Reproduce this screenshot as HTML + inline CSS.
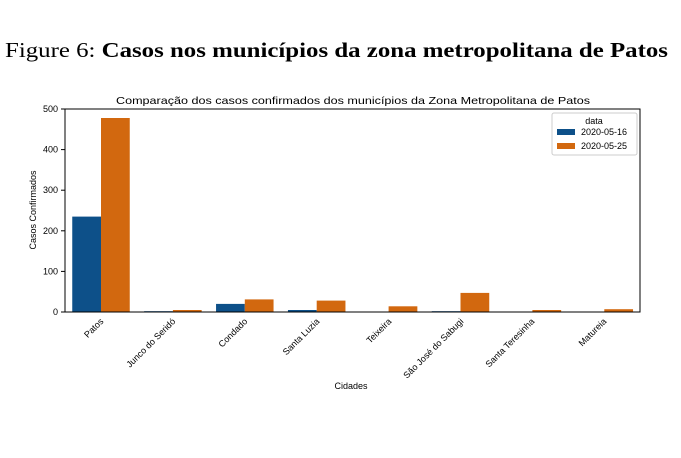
<!DOCTYPE html>
<html><head><meta charset="utf-8"><style>body{margin:0;background:#fff}svg{display:block}</style></head><body>
<svg width="681" height="458" xmlns="http://www.w3.org/2000/svg" font-family="Liberation Sans, DejaVu Sans, sans-serif">
<rect width="681" height="458" fill="#fff"/>
<text x="5" y="57" font-family="Liberation Serif, serif" font-size="21" textLength="663" lengthAdjust="spacingAndGlyphs"><tspan>Figure 6:</tspan><tspan font-weight="bold"> Casos nos municípios da zona metropolitana de Patos</tspan></text>
<text x="353" y="104" font-size="10.5" text-anchor="middle" textLength="474" lengthAdjust="spacingAndGlyphs">Comparação dos casos confirmados dos municípios da Zona Metropolitana de Patos</text>
<g fill="#0d5089">
<rect x="72.25" y="216.6" width="28.75" height="95.4"/>
<rect x="144.15" y="311.2" width="28.75" height="0.8"/>
<rect x="216.05" y="303.9" width="28.75" height="8.1"/>
<rect x="287.95" y="310" width="28.75" height="2"/>
<rect x="431.75" y="311.2" width="28.75" height="0.8"/>
</g>
<g fill="#d2680f">
<rect x="101" y="118" width="28.75" height="194"/>
<rect x="172.9" y="310" width="28.75" height="2"/>
<rect x="244.8" y="299.4" width="28.75" height="12.6"/>
<rect x="316.7" y="300.6" width="28.75" height="11.4"/>
<rect x="388.6" y="306.3" width="28.75" height="5.7"/>
<rect x="460.5" y="292.9" width="28.75" height="19.1"/>
<rect x="532.4" y="310" width="28.75" height="2"/>
<rect x="604.3" y="309.2" width="28.75" height="2.8"/>
</g>
<rect x="65" y="109" width="575" height="203" fill="none" stroke="#000" stroke-width="1"/>
<g font-size="9" text-anchor="end">
<text x="58" y="315">0</text><text x="58" y="274.4">100</text><text x="58" y="233.8">200</text><text x="58" y="193.2">300</text><text x="58" y="152.6">400</text><text x="58" y="112">500</text>
</g>
<g stroke="#000"><line x1="61" x2="65" y1="312" y2="312"/><line x1="61" x2="65" y1="271.4" y2="271.4"/><line x1="61" x2="65" y1="230.8" y2="230.8"/><line x1="61" x2="65" y1="190.2" y2="190.2"/><line x1="61" x2="65" y1="149.6" y2="149.6"/><line x1="61" x2="65" y1="109" y2="109"/></g>
<text x="0" y="0" font-size="9" text-anchor="middle" transform="translate(36,210) rotate(-90)">Casos Confirmados</text>
<g font-size="9" text-anchor="end">
<text transform="translate(104,322) rotate(-45)">Patos</text>
<text transform="translate(176,322) rotate(-45)">Junco do Seridó</text>
<text transform="translate(248,322) rotate(-45)">Condado</text>
<text transform="translate(320,322) rotate(-45)">Santa Luzia</text>
<text transform="translate(392,322) rotate(-45)">Teixeira</text>
<text transform="translate(464,322) rotate(-45)">São José do Sabugi</text>
<text transform="translate(535,322) rotate(-45)">Santa Teresinha</text>
<text transform="translate(607,322) rotate(-45)">Matureia</text>
</g>
<text x="351" y="389" font-size="9" text-anchor="middle">Cidades</text>
<rect x="552" y="113" width="85" height="42" fill="#fff" stroke="#ccc" rx="2"/>
<text x="594" y="124" font-size="9" text-anchor="middle">data</text>
<rect x="557" y="129" width="18" height="6" fill="#0d5089"/>
<text x="581" y="135" font-size="9">2020-05-16</text>
<rect x="557" y="143" width="18" height="6" fill="#d2680f"/>
<text x="581" y="149" font-size="9">2020-05-25</text>
</svg>
</body></html>
